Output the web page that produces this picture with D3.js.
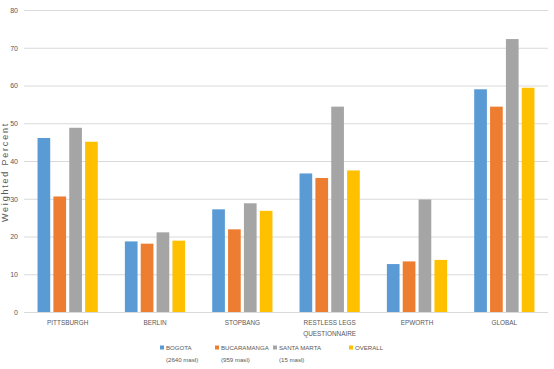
<!DOCTYPE html>
<html><head><meta charset="utf-8">
<script src="https://cdn.jsdelivr.net/npm/d3@7"></script>
<style>body{margin:0;background:#fff}svg{display:block}text{font-family:"Liberation Sans",Arial,sans-serif;fill:#595959}</style>
</head><body>
<svg id="c" width="554" height="369"></svg>
<script>
const categories = ["PITTSBURGH","BERLIN","STOPBANG","RESTLESS LEGS|QUESTIONNAIRE","EPWORTH","GLOBAL"];
const seriesNames = ["BOGOTA|(2640 masl)","BUCARAMANGA|(959 masl)","SANTA MARTA|(15 masl)","OVERALL"];
const bogota      = [46.1, 18.7, 27.2, 36.7, 12.7, 59.0];
const bucaramanga = [30.6, 18.1, 21.9, 35.5, 13.4, 54.4];
const santaMarta  = [48.8, 21.1, 28.8, 54.4, 29.8, 72.3];
const overall     = [45.1, 18.9, 26.8, 37.5, 13.8, 59.4];
const yTicks = [0,10,20,30,40,50,60,70,80];
const colors = ["#5B9BD5","#ED7D31","#A5A5A5","#FFC000"];
const series = [bogota, bucaramanga, santaMarta, overall];

const svg = d3.select("#c");
const L = 24, R = 548, T = 10, B = 312;
const y = d3.scaleLinear().domain([0,80]).range([B,T]);
const x0 = d3.scaleBand().domain(d3.range(categories.length)).range([L,R]).paddingInner(0.31).paddingOuter(0.155);
const x1 = d3.scaleBand().domain(d3.range(series.length)).range([0,x0.bandwidth()]).paddingInner(0.2);

// gridlines
const yAxis = d3.axisLeft(y).tickValues(yTicks).tickSize(-(R-L)).tickPadding(6);
const ga = svg.append("g").attr("transform",`translate(${L},0)`).call(yAxis);
ga.select(".domain").remove();
ga.selectAll(".tick line").attr("stroke","#D9D9D9").attr("stroke-width",1);
ga.selectAll(".tick text").style("font-size","7px").attr("fill","#595959");

// bars
const groups = svg.append("g").selectAll("g").data(categories).join("g")
  .attr("transform",(d,i)=>`translate(${x0(i)},0)`);
groups.selectAll("rect").data((d,i)=>series.map((s,j)=>({j,v:s[i]}))).join("rect")
  .attr("x",d=>x1(d.j)).attr("width",x1.bandwidth())
  .attr("y",d=>y(d.v)).attr("height",d=>y(0)-y(d.v))
  .attr("fill",d=>colors[d.j]);

// x labels
const xl = svg.append("g").selectAll("text").data(categories).join("text")
  .attr("text-anchor","middle").style("font-size","6.4px")
  .attr("x",(d,i)=>x0(i)+x0.bandwidth()/2).attr("y",324.5);
xl.each(function(d){
  const t=d3.select(this);
  d.split("|").forEach((p,k)=>t.append("tspan").attr("x",t.attr("x")).attr("dy",k?11:0).text(p));
});

// y title
svg.append("text").attr("transform","translate(8,172) rotate(-90)")
  .attr("text-anchor","middle").style("font-size","9px").style("letter-spacing","1.8px")
  .attr("fill","#7F7F7F").text("Weighted    Percent");

// legend
const legX = [160,215,273,349];
const lg = svg.append("g").selectAll("g").data(seriesNames).join("g")
  .attr("transform",(d,i)=>`translate(${legX[i]},0)`);
lg.append("rect").attr("x",0).attr("y",345.5).attr("width",4).attr("height",4).attr("fill",(d,i)=>colors[i]);
lg.each(function(d){
  const g=d3.select(this);
  d.split("|").forEach((p,k)=>g.append("text").attr("x",6).attr("y",350+k*11.5).style("font-size","6.1px").text(p));
});
</script>
</body></html>
